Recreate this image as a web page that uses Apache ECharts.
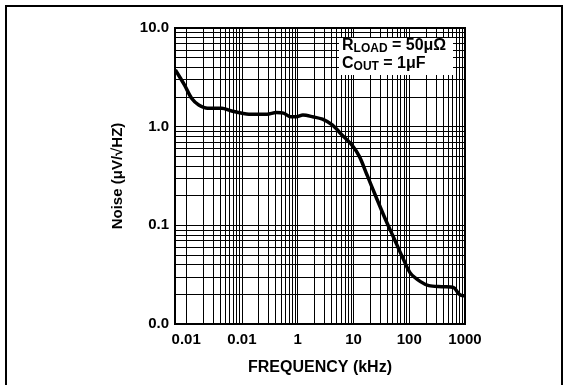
<!DOCTYPE html>
<html><head><meta charset="utf-8">
<script src="https://cdn.jsdelivr.net/npm/echarts@6/dist/echarts.min.js"></script>
<style>html,body{margin:0;padding:0;background:#fff}#c{width:570px;height:385px}</style>
</head><body><div id="c"></div>
<script>
const freq = [0.0064, 0.0093, 0.0125, 0.0168, 0.0243, 0.0437, 0.0634, 0.133, 0.282, 0.411, 0.556, 0.752, 0.944, 1.24, 1.86, 2.78, 4.16, 6.23, 9.33, 12.8, 17.5, 25.3, 36.7, 53.2, 77.1, 105, 159, 225, 388, 628, 772, 948, 1000];
const noise = [3.75, 2.65, 1.94, 1.66, 1.54, 1.54, 1.45, 1.34, 1.34, 1.39, 1.37, 1.26, 1.26, 1.31, 1.26, 1.19, 1.04, 0.824, 0.653, 0.497, 0.324, 0.195, 0.118, 0.074, 0.0464, 0.0327, 0.0269, 0.0245, 0.0239, 0.0234, 0.0202, 0.0193, 0.0193];
const xTickValues = [0.01, 0.1, 1, 10, 100, 1000];
const xTickLabels = ['0.01', '0.01', '1', '10', '100', '1000'];
const yTickValues = [0.01, 0.1, 1, 10];
const yTickLabels = ['0.0', '0.1', '1.0', '10.0'];
const xMin = 0.0063, xMax = 1000, yMin = 0.01, yMax = 10;

const FONT = '"Liberation Sans", Arial, sans-serif';
function lookup(vals, labels, v) {
  for (let i = 0; i < vals.length; i++) {
    if (Math.abs(Math.log10(v) - Math.log10(vals[i])) < 1e-6) return labels[i];
  }
  return '';
}
// minor grid lines (2..9 per decade)
const minor = [];
for (let e = -3; e <= 2; e++) for (let k = 2; k <= 9; k++) {
  const v = k * Math.pow(10, e);
  if (v > xMin && v < xMax) minor.push({ xAxis: v });
}
for (let e = -2; e <= 0; e++) for (let k = 2; k <= 9; k++) {
  const v = k * Math.pow(10, e);
  if (v > yMin && v < yMax) minor.push({ yAxis: v });
}

const chart = echarts.init(document.getElementById('c'), null, { renderer: 'canvas' });
chart.setOption({
  animation: false,
  backgroundColor: '#fff',
  grid: { left: 175, top: 28, right: 105, bottom: 61, show: true, borderColor: '#000', borderWidth: 2, z: 10 },
  xAxis: {
    type: 'log', min: xMin, max: xMax,
    name: 'FREQUENCY (kHz)', nameLocation: 'middle', nameGap: 36,
    nameTextStyle: { fontFamily: FONT, fontWeight: 'bold', fontSize: 16, color: '#000' },
    axisLine: { show: false }, axisTick: { show: false },
    axisLabel: { margin: 8, fontFamily: FONT, fontWeight: 'bold', fontSize: 15, color: '#000', showMinLabel: true, showMaxLabel: true,
      formatter: v => lookup(xTickValues, xTickLabels, v) },
    splitLine: { show: true, lineStyle: { color: '#000', width: 1 } }
  },
  yAxis: {
    type: 'log', min: yMin, max: yMax,
    name: 'Noise (\u03bcV/\u221aHZ)', nameLocation: 'middle', nameGap: 50, nameRotate: 90,
    nameTextStyle: { fontFamily: FONT, fontWeight: 'bold', fontSize: 15, color: '#000' },
    axisLine: { show: false }, axisTick: { show: false },
    axisLabel: { margin: 6, fontFamily: FONT, fontWeight: 'bold', fontSize: 15, color: '#000', showMinLabel: true, showMaxLabel: true,
      formatter: v => lookup(yTickValues, yTickLabels, v) },
    splitLine: { show: true, lineStyle: { color: '#000', width: 1 } }
  },
  series: [
    { type: 'line', data: [], z: 1, silent: true,
      markLine: { silent: true, symbol: ['none', 'none'], label: { show: false },
        lineStyle: { color: '#000', width: 1, type: 'solid' }, emphasis: { disabled: true },
        animation: false, data: minor } },
    { type: 'line', z: 5, smooth: 0.3, symbol: 'none', silent: true,
      data: freq.map((f, i) => [f, noise[i]]),
      lineStyle: { color: '#000', width: 3.5 } }
  ],
  graphic: [
    { type: 'rect', z: 100, silent: true, shape: { x: 339, y: 38, width: 114, height: 37 }, style: { fill: '#fff' } },
    { type: 'text', z: 101, silent: true, left: 342, top: 36,
      style: {
        text: '{b|R}{s|LOAD}{b| = 50\u03bc\u03a9}\n{b|C}{s|OUT}{b| = 1\u03bcF}',
        rich: {
          b: { fontFamily: FONT, fontWeight: 'bold', fontSize: 16, fill: '#000', lineHeight: 18 },
          s: { fontFamily: FONT, fontWeight: 'bold', fontSize: 12, fill: '#000', padding: [7, 0, 0, 0], lineHeight: 18 }
        }
      } },
    { type: 'rect', z: 100, silent: true, shape: { x: 6, y: 6, width: 556, height: 395 }, style: { fill: 'none', stroke: '#000', lineWidth: 2 } }
  ]
});
</script></body></html>
